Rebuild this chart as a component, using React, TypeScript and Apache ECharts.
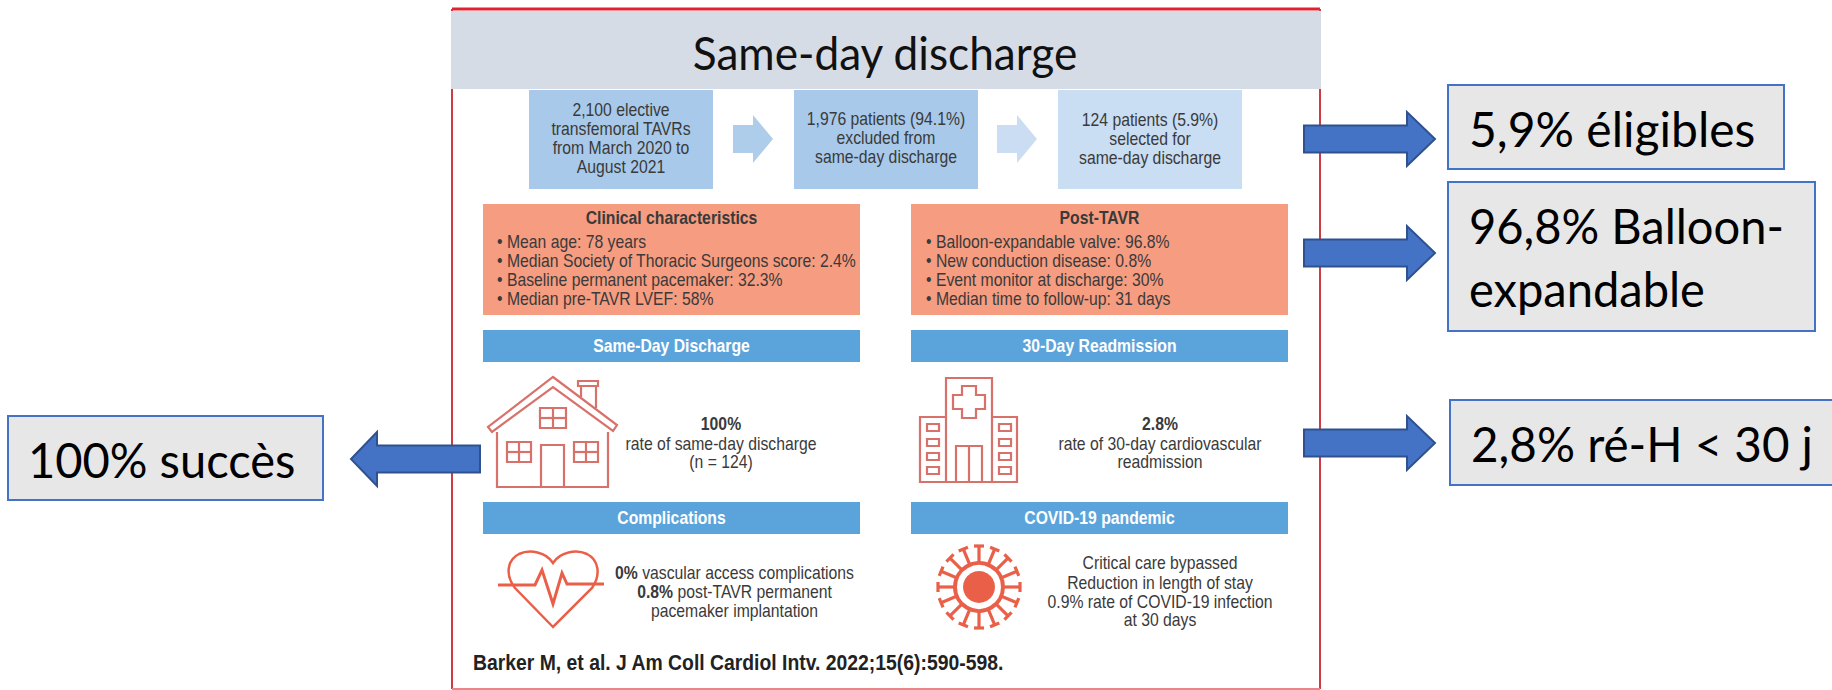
import React, { useEffect, useRef } from "react";
import * as echarts from "echarts";

const title = "Same-day discharge";
const flowFirst = ["2,100 elective", "transfemoral TAVRs", "from March 2020 to", "August 2021"];
const flowSecond = ["1,976 patients (94.1%)", "excluded from", "same-day discharge"];
const flowThird = ["124 patients (5.9%)", "selected for", "same-day discharge"];
const clinicalTitle = "Clinical characteristics";
const clinicalLines = ["• Mean age: 78 years", "• Median Society of Thoracic Surgeons score: 2.4%", "• Baseline permanent pacemaker: 32.3%", "• Median pre-TAVR LVEF: 58%"];
const postTitle = "Post-TAVR";
const postLines = ["• Balloon-expandable valve: 96.8%", "• New conduction disease: 0.8%", "• Event monitor at discharge: 30%", "• Median time to follow-up: 31 days"];
const barTitles = ["Same-Day Discharge", "30-Day Readmission", "Complications", "COVID-19 pandemic"];
const dischargeLines = ["100%", "rate of same-day discharge", "(n = 124)"];
const readmitLines = ["2.8%", "rate of 30-day cardiovascular", "readmission"];
const complicationLines = [
  { bold: "0%", rest: " vascular access complications" },
  { bold: "0.8%", rest: " post-TAVR permanent" },
  { bold: "", rest: "pacemaker implantation" },
];
const covidLines = ["Critical care bypassed", "Reduction in length of stay", "0.9% rate of COVID-19 infection", "at 30 days"];
const citation = "Barker M, et al. J Am Coll Cardiol Intv. 2022;15(6):590-598.";
const calloutEligible = ["5,9% éligibles"];
const calloutBalloon = ["96,8% Balloon-", "expandable"];
const calloutReadmit = ["2,8% ré-H < 30 j"];
const calloutSuccess = ["100% succès"];

const NARROW = '"Liberation Sans", sans-serif';
const CALIBRI = "Lato, sans-serif";
const INK = "#3a3a3a";
const ICON = "#d9716b";
const VIRUS = "#ea5f48";
const BODY = 18;
const SQUEEZE = 0.875;

const HEART = "M553 627 L515 588 C505 575 507 560 519 554 C530 549 546 552 553 563 C560 552 576 549 587 554 C599 560 601 575 592 588 Z";
echarts.graphic.registerShape("heartIcon", echarts.graphic.extendPath(HEART as any, {}));

function label(text: string, x: number, y: number, size: number, opts: any = {}) {
  const { sx = SQUEEZE, align = "center", color = INK, weight = "normal", family = NARROW } = opts;
  return {
    type: "text", x, y, scaleX: sx, z: 10,
    style: { text, x: 0, y: 0, fill: color, font: `${weight} ${size}px ${family}`, align, verticalAlign: "middle" },
  };
}
const rect = (x: number, y: number, w: number, h: number, fill: string, stroke?: string, lineWidth = 0) => ({
  type: "rect", shape: { x, y, width: w, height: h }, style: { fill, stroke: stroke ?? "none", lineWidth },
});
const outline = (x: number, y: number, w: number, h: number, color = ICON, lw = 2.2) => rect(x, y, w, h, "none", color, lw);
const seg = (x1: number, y1: number, x2: number, y2: number, color = ICON, lw = 2.2) => ({
  type: "line", shape: { x1, y1, x2, y2 }, style: { stroke: color, lineWidth: lw },
});
const poly = (points: number[][], color = ICON, lw = 2.2) => ({
  type: "polyline", shape: { points }, style: { stroke: color, lineWidth: lw, fill: "none" },
});
const rightArrow = (x0: number, neck: number, tip: number, cy: number, halfShaft: number, halfHead: number, fill: string, stroke = "none", lw = 0) => ({
  type: "polygon",
  shape: { points: [[x0, cy - halfShaft], [neck, cy - halfShaft], [neck, cy - halfHead], [tip, cy], [neck, cy + halfHead], [neck, cy + halfShaft], [x0, cy + halfShaft]] },
  style: { fill, stroke, lineWidth: lw }, z: 6,
});
function windowPane(x: number, y: number, w: number, h: number) {
  return [outline(x, y, w, h), seg(x + w / 2, y, x + w / 2, y + h), seg(x, y + h / 2, x + w, y + h / 2)];
}
function house() {
  return [
    { type: "polygon", shape: { points: [[553, 377], [617, 425], [613, 431], [553, 387], [492, 432], [488, 427]] }, style: { fill: "none", stroke: ICON, lineWidth: 2.2 } },
    poly([[497, 432], [497, 487], [608, 487], [608, 432]]),
    outline(578, 381, 20, 5),
    poly([[581, 397], [581, 386]]),
    poly([[596, 386], [596, 408]]),
    ...windowPane(540, 408, 26, 20),
    ...windowPane(507, 442, 24, 20),
    ...windowPane(574, 442, 24, 20),
    poly([[541, 487], [541, 445], [564, 445], [564, 487]]),
  ];
}
function hospital() {
  const rows = [424, 439, 453, 467];
  return [
    poly([[946, 482], [946, 378], [992, 378], [992, 482]]),
    poly([[946, 417], [920, 417], [920, 482], [1017, 482], [1017, 417], [992, 417]]),
    { type: "polygon", shape: { points: [[962, 386], [976, 386], [976, 395], [985, 395], [985, 409], [976, 409], [976, 418], [962, 418], [962, 409], [953, 409], [953, 395], [962, 395]] }, style: { fill: "none", stroke: ICON, lineWidth: 2.2 } },
    poly([[956, 482], [956, 446], [982, 446], [982, 482]]),
    seg(969, 446, 969, 482),
    ...rows.map((y) => outline(927, y, 12, 7)),
    ...rows.map((y) => outline(999, y, 12, 7)),
  ];
}
function heart() {
  return [
    { type: "heartIcon", x: 0, y: 0, style: { fill: "none", stroke: VIRUS, lineWidth: 2.5 } },
    poly([[498, 585], [535, 585], [542, 570], [553, 604], [562, 573], [567, 584], [604, 584]], VIRUS, 3),
  ];
}
function virus() {
  const cx = 979, cy = 587, spikes = 16;
  const out: any[] = [
    { type: "circle", shape: { cx, cy, r: 16 }, style: { fill: VIRUS } },
    { type: "circle", shape: { cx, cy, r: 24 }, style: { fill: "none", stroke: VIRUS, lineWidth: 4 } },
  ];
  for (let k = 0; k < spikes; k++) {
    const a = (k * Math.PI * 2) / spikes;
    const c = Math.cos(a), s = Math.sin(a);
    out.push(seg(cx + c * 25, cy + s * 25, cx + c * 41, cy + s * 41, VIRUS, 3.2));
    out.push(seg(cx + c * 41 - s * 5, cy + s * 41 + c * 5, cx + c * 41 + s * 5, cy + s * 41 - c * 5, VIRUS, 3.2));
  }
  return out;
}
function stack(lines: string[], cx: number, ys: number[], size: number, weightFirst = false) {
  return lines.map((t, i) => label(t, cx, ys[i], size, { weight: weightFirst && i === 0 ? "bold" : "normal" }));
}
function callout(x: number, y: number, w: number, h: number, lines: string[], tx: number, ys: number[], sx = 1) {
  return [
    rect(x, y, w, h, "#e7e7e7", "#4472c4", 2),
    ...lines.map((t, i) => label(t, tx, ys[i], 48, { align: "left", color: "#000", family: CALIBRI, sx })),
  ];
}

function buildGraphics() {
  const LX = 483, RX = 911, W = 377;
  const lc = LX + W / 2, rc = RX + W / 2;
  const lines4 = [242, 261, 280, 299];
  const compl = [573, 592, 611];
  const complRows = complicationLines.map((l, i) => {
    const y = compl[i];
    return {
      type: "text", x: 734.5, y, scaleX: SQUEEZE, z: 10,
      style: {
        text: l.bold ? `{b|${l.bold}}{n|${l.rest}}` : `{n|${l.rest}}`,
        x: 0, y: 0, align: "center", verticalAlign: "middle", fill: INK,
        rich: {
          b: { font: `bold ${BODY}px ${NARROW}`, fill: INK },
          n: { font: `normal ${BODY}px ${NARROW}`, fill: INK },
        },
      },
    };
  });
  return [
    rect(0, 0, 1832, 690, "#ffffff"),
    seg(452, 9, 1320, 9, "#e0222e", 3),
    seg(452, 9, 452, 689, "#cf3b42", 2),
    seg(1320, 9, 1320, 689, "#cf3b42", 2),
    seg(452, 689, 1320, 689, "#e8868a", 2),
    rect(451, 11, 870, 78, "#d6dce5"),
    label(title, 885, 52, 47, { color: "#111", family: CALIBRI, sx: 0.94 }),
    rect(529, 90, 184, 99, "#a8c9e9"),
    rect(794, 90, 184, 99, "#a8c9e9"),
    rect(1058, 90, 184, 99, "#c9ddf3"),
    rightArrow(733, 753, 773, 139, 14, 24, "#aecdea"),
    rightArrow(997, 1017, 1037, 139, 14, 24, "#cbddf2"),
    ...stack(flowFirst, 621, [110, 129, 148, 167], BODY),
    ...stack(flowSecond, 886, [119, 138, 157], BODY),
    ...stack(flowThird, 1150, [120, 139, 158], BODY),
    rect(LX, 204, W, 111, "#f69c80"),
    rect(RX, 204, W, 111, "#f69c80"),
    label(clinicalTitle, lc, 218, BODY, { weight: "bold" }),
    label(postTitle, rc, 218, BODY, { weight: "bold" }),
    ...clinicalLines.map((t, i) => label(t, 497, lines4[i], BODY, { align: "left" })),
    ...postLines.map((t, i) => label(t, 926, lines4[i], BODY, { align: "left" })),
    rect(LX, 330, W, 32, "#5ba4db"),
    rect(RX, 330, W, 32, "#5ba4db"),
    rect(LX, 502, W, 32, "#5ba4db"),
    rect(RX, 502, W, 32, "#5ba4db"),
    label(barTitles[0], lc, 346, BODY, { color: "#fff", weight: "bold" }),
    label(barTitles[1], rc, 346, BODY, { color: "#fff", weight: "bold" }),
    label(barTitles[2], lc, 518, BODY, { color: "#fff", weight: "bold" }),
    label(barTitles[3], rc, 518, BODY, { color: "#fff", weight: "bold" }),
    ...house(),
    ...hospital(),
    ...heart(),
    ...virus(),
    ...stack(dischargeLines, 721, [424, 444, 462], BODY, true),
    ...stack(readmitLines, 1160, [424, 444, 462], BODY, true),
    ...complRows,
    ...stack(covidLines, 1160, [563, 583, 602, 620], BODY),
    label(citation, 473, 662, 22, { align: "left", color: "#222", weight: "bold", sx: 0.88 }),
    rightArrow(1304, 1407, 1435, 139, 13.5, 27, "#4472c4", "#2f528f", 2),
    rightArrow(1304, 1407, 1435, 253, 13.5, 27, "#4472c4", "#2f528f", 2),
    rightArrow(1304, 1407, 1435, 443, 13.5, 27, "#4472c4", "#2f528f", 2),
    rightArrow(480, 377, 351, 459, 13.5, 27, "#4472c4", "#2f528f", 2),
    ...callout(1448, 85, 336, 84, calloutEligible, 1469, [128]),
    ...callout(1448, 182, 367, 149, calloutBalloon, 1469, [225, 288], 0.98),
    ...callout(1450, 400, 390, 85, calloutReadmit, 1471, [443], 0.99),
    ...callout(8, 416, 315, 84, calloutSuccess, 28, [459], 0.98),
  ];
}

export default function App() {
  const ref = useRef<HTMLDivElement>(null);
  useEffect(() => {
    document.body.style.margin = "0";
    const chart = echarts.init(ref.current!, null, { renderer: "svg" });
    chart.setOption({ animation: false, graphic: { elements: buildGraphics() } });
    return () => chart.dispose();
  }, []);
  return <div ref={ref} style={{ width: 1832, height: 690 }} />;
}
